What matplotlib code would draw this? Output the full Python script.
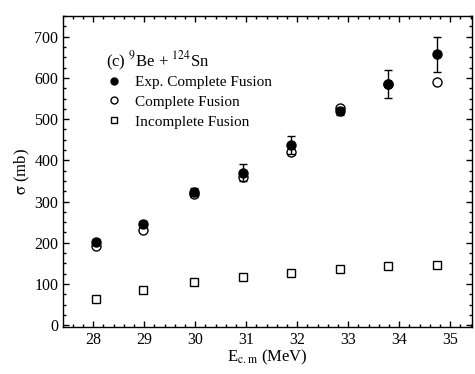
import matplotlib

matplotlib.use("Agg")
import matplotlib.pyplot as plt
from matplotlib.lines import Line2D
from matplotlib.ticker import MultipleLocator

plt.rcParams["font.family"] = ["Liberation Serif", "DejaVu Serif"]
plt.rcParams["mathtext.fontset"] = "stix"

# data
energy = [28.05, 28.98, 29.97, 30.93, 31.88, 32.83, 33.78, 34.74]
exp_cf = [202, 246, 323, 370, 438, 519, 585, 657]
exp_err = [8, 8, 10, 20, 22, 8, 34, 42]
calc_cf = [192, 231, 318, 360, 420, 526, 586, 589]
calc_icf = [63, 85, 104, 118, 127, 136, 143, 145]

fig = plt.figure(figsize=(4.75, 3.74), dpi=100)
ax = fig.add_axes([0.133, 0.125, 0.861, 0.832])

ax.errorbar(energy, exp_cf, yerr=exp_err, fmt="o", color="black", ms=6.5,
            elinewidth=1, capsize=3, capthick=1, zorder=3)
ax.plot(energy, calc_cf, "o", mfc="white", mec="black", ms=6.5, mew=1, zorder=2)
ax.plot(energy, calc_icf, "s", mfc="white", mec="black", ms=6, mew=1, zorder=2)

ax.set_xlim(27.41, 35.43)
ax.set_ylim(-5, 750)
ax.xaxis.set_major_locator(MultipleLocator(1))
ax.xaxis.set_minor_locator(MultipleLocator(0.2))
ax.yaxis.set_major_locator(MultipleLocator(100))
ax.yaxis.set_minor_locator(MultipleLocator(25))
ax.tick_params(which="both", direction="in", top=True, right=True,
               labelsize=11.5)
ax.tick_params(which="major", length=4, width=1)
ax.tick_params(which="minor", length=2, width=1)
for s in ax.spines.values():
    s.set_linewidth(1)

ax.set_xlabel(r"E$_{\rm c.m}$ (MeV)", fontsize=12, labelpad=0)
ax.set_ylabel(r"$\mathrm{\sigma}$ (mb)", fontsize=12, labelpad=2)

ax.text(0.105, 0.855, r"(c) $^{9}$Be + $^{124}$Sn", transform=ax.transAxes,
        fontsize=12, va="center")
handles = [
    Line2D([], [], ls="none", marker="o", color="black", ms=5),
    Line2D([], [], ls="none", marker="o", mfc="white", mec="black", ms=5, mew=1),
    Line2D([], [], ls="none", marker="s", mfc="white", mec="black", ms=5, mew=1),
]
labels = ["Exp. Complete Fusion", "Complete Fusion", "Incomplete Fusion"]
ax.legend(handles, labels, loc="upper left", bbox_to_anchor=(0.105, 0.81),
          frameon=False, fontsize=11, handletextpad=0.9, labelspacing=0.4,
          borderaxespad=0, borderpad=0, handlelength=1.0)

fig.savefig("out.png", dpi=100)
